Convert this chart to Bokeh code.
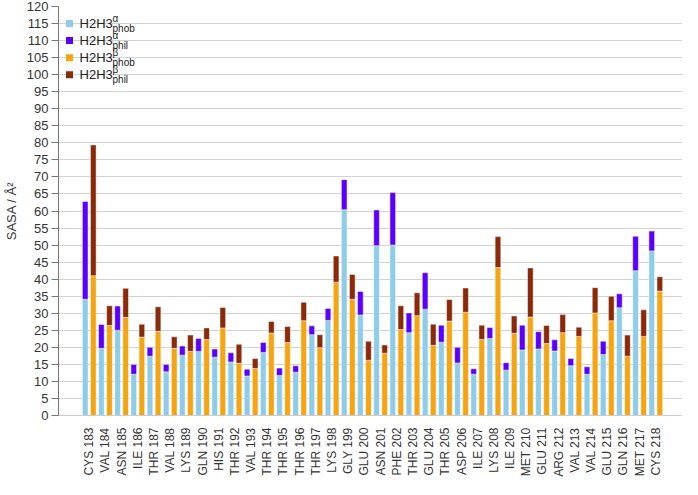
import numpy as np
from bokeh.plotting import figure
from bokeh.models import FixedTicker, Label, Range1d
from bokeh.embed import file_html
from bokeh.resources import INLINE

residues = ["CYS 183", "VAL 184", "ASN 185", "ILE 186", "THR 187", "VAL 188", "LYS 189",
            "GLN 190", "HIS 191", "THR 192", "VAL 193", "THR 194", "THR 195", "THR 196",
            "THR 197", "LYS 198", "GLY 199", "GLU 200", "ASN 201", "PHE 202", "THR 203",
            "GLU 204", "THR 205", "ASP 206", "ILE 207", "LYS 208", "ILE 209", "MET 210",
            "GLU 211", "ARG 212", "VAL 213", "VAL 214", "GLU 215", "GLN 216", "MET 217",
            "CYS 218"]

alpha_phob = [34.1, 19.7, 25.0, 12.1, 17.4, 12.8, 17.7, 18.8, 17.1, 15.7, 11.6, 18.5,
              11.7, 12.7, 23.7, 27.9, 60.4, 29.5, 49.8, 50.0, 24.3, 31.2, 21.5, 15.4,
              12.1, 22.6, 13.3, 19.2, 19.5, 18.9, 14.6, 12.1, 17.9, 31.6, 42.5, 48.3]
alpha_phil = [28.7, 7.0, 7.1, 2.9, 2.6, 2.2, 2.7, 3.8, 2.4, 2.7, 2.0, 2.9,
              2.2, 1.9, 2.6, 3.5, 8.8, 6.9, 10.5, 15.4, 5.8, 10.7, 5.0, 4.6,
              1.6, 3.2, 2.2, 7.3, 5.1, 3.3, 2.1, 2.2, 3.9, 4.1, 10.1, 5.8]
beta_phob = [41.0, 26.4, 28.8, 23.0, 24.7, 19.7, 18.8, 22.3, 25.7, 15.3, 13.8, 24.2,
             21.4, 27.8, 19.9, 39.1, 34.1, 16.2, 18.3, 25.2, 29.3, 20.6, 27.7, 30.3,
             22.3, 43.4, 24.1, 28.9, 21.1, 24.3, 23.2, 30.1, 27.8, 17.4, 23.2, 36.5]
beta_phil = [38.4, 5.8, 8.5, 3.8, 7.2, 3.4, 4.8, 3.4, 6.0, 5.6, 2.9, 3.4,
             4.7, 5.4, 3.8, 7.7, 7.3, 5.6, 2.4, 7.0, 6.7, 6.2, 6.3, 7.1,
             4.2, 9.1, 5.1, 14.4, 5.3, 5.3, 2.7, 7.4, 7.2, 6.2, 7.8, 4.2]

y_ticks = list(range(0, 121, 5))

C_APHOB = "#8ecdea"
C_APHIL = "#5a00ff"
C_BPHOB = "#f5a511"
C_BPHIL = "#8a2a08"
FONT = "Liberation Sans"

idx = np.arange(len(residues))
ap = np.array(alpha_phob)
ai = np.array(alpha_phil)
bp = np.array(beta_phob)
bi = np.array(beta_phil)

p = figure(width=682, height=479, output_backend="svg", toolbar_location=None,
           x_range=Range1d(-1.90, 36.65), y_range=Range1d(0, 120),
           min_border_left=56, min_border_right=0, min_border_top=6, min_border_bottom=0)
p.outline_line_color = None
p.background_fill_color = "white"
p.border_fill_color = "white"

W = 0.35
common = dict(width=W, line_color="white", line_width=0.6, line_alpha=0.8)
p.vbar(x=idx - 0.25, bottom=0, top=ap, fill_color=C_APHOB, **common)
p.vbar(x=idx - 0.25, bottom=ap, top=ap + ai, fill_color=C_APHIL, **common)
p.vbar(x=idx + 0.25, bottom=0, top=bp, fill_color=C_BPHOB, **common)
p.vbar(x=idx + 0.25, bottom=bp, top=bp + bi, fill_color=C_BPHIL, **common)

# axes
p.xgrid.grid_line_color = None
p.ygrid.grid_line_color = "#d2d2d2"
p.ygrid.grid_line_width = 1.2
p.ygrid.ticker = FixedTicker(ticks=y_ticks)

p.yaxis.ticker = FixedTicker(ticks=y_ticks)
p.yaxis.axis_line_color = "#777777"
p.yaxis.major_tick_line_color = "#777777"
p.yaxis.major_tick_out = 7
p.yaxis.major_tick_in = 0
p.yaxis.minor_tick_line_color = None
p.yaxis.major_label_text_font = FONT
p.yaxis.major_label_text_font_size = "13px"
p.yaxis.major_label_text_color = "#333333"
p.yaxis.major_label_standoff = 3
p.yaxis.axis_label = "SASA / Å²"
p.yaxis.axis_label_text_font = FONT
p.yaxis.axis_label_text_font_size = "13px"
p.yaxis.axis_label_text_font_style = "normal"
p.yaxis.axis_label_text_color = "#333333"
p.yaxis.axis_label_standoff = 5

p.xaxis.ticker = FixedTicker(ticks=list(idx))
p.xaxis.major_label_overrides = {int(i): residues[i] for i in idx}
p.xaxis.major_label_orientation = np.pi / 2
p.xaxis.axis_line_color = "#cccccc"
p.xaxis.major_tick_line_color = None
p.xaxis.minor_tick_line_color = None
p.xaxis.major_tick_out = 0
p.xaxis.major_tick_in = 0
p.xaxis.major_label_standoff = 12
p.xaxis.major_label_text_font = FONT
p.xaxis.major_label_text_font_size = "12px"
p.xaxis.major_label_text_color = "#333333"

# manual legend
leg_y = [115, 110, 105, 100]
leg_colors = [C_APHOB, C_APHIL, C_BPHOB, C_BPHIL]
leg_sup = ["α", "α", "β", "β"]
leg_sub = ["phob", "phil", "phob", "phil"]
p.scatter(x=[-1.22] * 4, y=leg_y, marker="square", size=7, fill_color=leg_colors,
          line_color=None)
for yv, sup, sub in zip(leg_y, leg_sup, leg_sub):
    p.add_layout(Label(x=-1.22, y=yv, x_offset=10, text="H2H3", text_font=FONT,
                       text_font_size="13px", text_baseline="middle", text_color="#222222"))
    p.add_layout(Label(x=-1.22, y=yv, x_offset=43, y_offset=5, text=sup, text_font=FONT,
                       text_font_size="10px", text_baseline="middle", text_color="#222222"))
    p.add_layout(Label(x=-1.22, y=yv, x_offset=43, y_offset=-5, text=sub, text_font=FONT,
                       text_font_size="10px", text_baseline="middle", text_color="#222222"))

open("out.html", "w").write(file_html(p, INLINE))
